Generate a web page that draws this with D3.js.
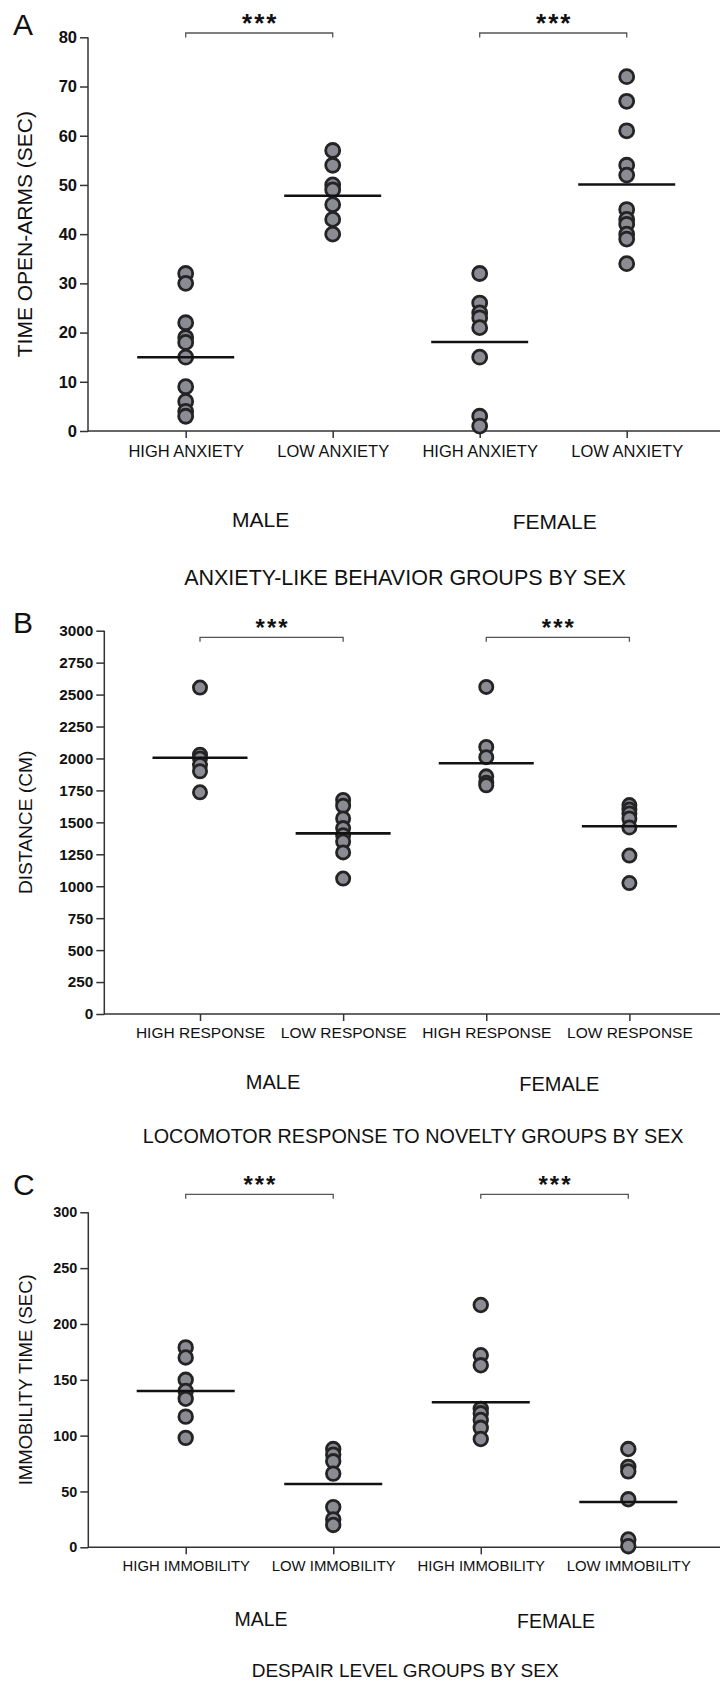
<!DOCTYPE html>
<html>
<head>
<meta charset="utf-8">
<script src="https://cdn.jsdelivr.net/npm/d3@7"></script>
<style>
  html, body { margin: 0; padding: 0; background: #fff; }
  svg { display: block; }
</style>
</head>
<body>
<script>
// ---------------- DATA ----------------
// Panel A
const catsA = ["HIGH ANXIETY", "LOW ANXIETY", "HIGH ANXIETY", "LOW ANXIETY"];
const ticksA = [0, 10, 20, 30, 40, 50, 60, 70, 80];
const maleHighAnx = [32, 30, 22, 19, 18, 15, 9, 6, 4, 3];
const maleLowAnx = [57, 54, 50, 49, 46, 43, 40];
const femaleHighAnx = [32, 26, 24, 23, 21, 15, 3, 1];
const femaleLowAnx = [72, 67, 61, 54, 52, 45, 43, 42, 40, 39, 34];
const meansA = [15, 47.8, 18.1, 50.1];

// Panel B
const catsB = ["HIGH RESPONSE", "LOW RESPONSE", "HIGH RESPONSE", "LOW RESPONSE"];
const ticksB = [0, 250, 500, 750, 1000, 1250, 1500, 1750, 2000, 2250, 2500, 2750, 3000];
const maleHighResp = [2555, 2030, 2000, 1950, 1900, 1735];
const maleLowResp = [1675, 1630, 1530, 1455, 1400, 1350, 1265, 1060];
const femaleHighResp = [2560, 2090, 2010, 1860, 1810, 1790];
const femaleLowResp = [1635, 1600, 1570, 1530, 1460, 1240, 1025];
const meansB = [2006, 1414, 1962, 1469];

// Panel C
const catsC = ["HIGH IMMOBILITY", "LOW IMMOBILITY", "HIGH IMMOBILITY", "LOW IMMOBILITY"];
const ticksC = [0, 50, 100, 150, 200, 250, 300];
const maleHighImm = [179, 170, 150, 140, 133, 117, 98];
const maleLowImm = [88, 83, 77, 66, 36, 25, 20];
const femaleHighImm = [217, 172, 163, 124, 120, 114, 107, 97];
const femaleLowImm = [88, 72, 68, 43, 7, 1];
const meansC = [140, 56.7, 129.9, 40.6];

const sexes = ["MALE", "FEMALE"];
const sigPairs = [[0, 1], [2, 3]];
const sigLabel = "***";

// ---------------- STYLE / LAYOUT ----------------
const FONT = "'Liberation Sans', Arial, Helvetica, sans-serif";
const AXIS = "#333";
const DOT_FILL = "#8b8b94";
const DOT_STROKE = "#242424";

const svg = d3.select("body").append("svg")
  .attr("width", 720).attr("height", 1681);

const panels = [
  {
    letter: "A", letterY: 35,
    yTitle: "TIME OPEN-ARMS (SEC)", yTitleX: 31.5, yTitleFont: 21,
    cats: catsA, ticks: ticksA, yDomain: [0, 80], yRange: [431, 37.3],
    axisX: 88, xRange: [185.7, 626.7], xEnd: 720, tickFont: 16.5,
    catFont: 16.5, catBase: 456.7,
    groupFont: 21, groupBase: [527.3, 529.3],
    title: "ANXIETY-LIKE BEHAVIOR GROUPS BY SEX", titleFont: 21.5, titleBase: 585,
    values: [maleHighAnx, maleLowAnx, femaleHighAnx, femaleLowAnx], means: meansA,
    bracketY: 33, starFont: 26, r: 7, halfW: 48.5
  },
  {
    letter: "B", letterY: 633.3,
    yTitle: "DISTANCE (CM)", yTitleX: 31.5, yTitleFont: 19.2,
    cats: catsB, ticks: ticksB, yDomain: [0, 3000], yRange: [1014, 630.7],
    axisX: 104.3, xRange: [200, 629.4], xEnd: 720, tickFont: 15.3,
    catFont: 15.5, catBase: 1038.3,
    groupFont: 20, groupBase: [1089, 1090.7],
    title: "LOCOMOTOR RESPONSE TO NOVELTY GROUPS BY SEX", titleFont: 19.8, titleBase: 1143.3,
    values: [maleHighResp, maleLowResp, femaleHighResp, femaleLowResp], means: meansB,
    bracketY: 637.3, starFont: 24, r: 6.6, halfW: 47.5
  },
  {
    letter: "C", letterY: 1195,
    yTitle: "IMMOBILITY TIME (SEC)", yTitleX: 31.5, yTitleFont: 18.5,
    cats: catsC, ticks: ticksC, yDomain: [0, 300], yRange: [1547.3, 1212.3],
    axisX: 88.3, xRange: [185.7, 628.3], xEnd: 720, tickFont: 14.4,
    catFont: 14.9, catBase: 1571,
    groupFont: 19.5, groupBase: [1625.7, 1627.7],
    title: "DESPAIR LEVEL GROUPS BY SEX", titleFont: 19, titleBase: 1676.7,
    values: [maleHighImm, maleLowImm, femaleHighImm, femaleLowImm], means: meansC,
    bracketY: 1194.3, starFont: 24, r: 6.8, halfW: 49
  }
];

function drawPanel(p) {
  const g = svg.append("g");
  const y = d3.scaleLinear().domain(p.yDomain).range(p.yRange);
  const x = d3.scalePoint().domain(d3.range(p.cats.length)).range(p.xRange);
  const y0 = p.yRange[0];

  // panel letter
  g.append("text").attr("x", 13).attr("y", p.letterY)
    .attr("font-family", FONT).attr("font-size", 30).attr("fill", "#111")
    .text(p.letter);

  // y axis ticks + labels
  const ya = d3.axisLeft(y).tickValues(p.ticks).tickFormat(d3.format("d"))
    .tickSize(8).tickPadding(3).tickSizeOuter(0);
  const yg = g.append("g").attr("transform", `translate(${p.axisX},0)`).call(ya);
  yg.select(".domain").remove();
  yg.selectAll(".tick line").attr("stroke", AXIS).attr("stroke-width", 1.5);
  yg.selectAll(".tick text")
    .attr("font-family", FONT).attr("font-size", p.tickFont)
    .attr("font-weight", "bold").attr("fill", "#111");

  // x axis ticks + labels
  const xa = d3.axisBottom(x).tickSize(7).tickSizeOuter(0).tickFormat(i => p.cats[i]);
  const xg = g.append("g").attr("transform", `translate(0,${y0})`).call(xa);
  xg.select(".domain").remove();
  xg.selectAll(".tick line").attr("stroke", AXIS).attr("stroke-width", 1.5);
  xg.selectAll(".tick text")
    .attr("y", p.catBase - y0).attr("dy", null)
    .attr("font-family", FONT).attr("font-size", p.catFont)
    .attr("fill", "#111");

  // axis lines
  g.append("line").attr("x1", p.axisX).attr("x2", p.axisX)
    .attr("y1", p.yRange[1]).attr("y2", y0 + 0.75)
    .attr("stroke", AXIS).attr("stroke-width", 1.5);
  g.append("line").attr("x1", p.axisX).attr("x2", p.xEnd)
    .attr("y1", y0).attr("y2", y0)
    .attr("stroke", AXIS).attr("stroke-width", 1.5);

  // y title
  const ymid = (p.yRange[0] + p.yRange[1]) / 2;
  g.append("text")
    .attr("transform", `translate(${p.yTitleX},${ymid}) rotate(-90)`)
    .attr("text-anchor", "middle")
    .attr("font-family", FONT).attr("font-size", p.yTitleFont).attr("fill", "#111")
    .text(p.yTitle);

  // sex group labels
  sexes.forEach((s, i) => {
    const cx = (x(2 * i) + x(2 * i + 1)) / 2;
    g.append("text").attr("x", cx + 1.5).attr("y", p.groupBase[i])
      .attr("text-anchor", "middle")
      .attr("font-family", FONT).attr("font-size", p.groupFont).attr("fill", "#111")
      .text(s);
  });

  // bottom title
  g.append("text").attr("x", (p.axisX + p.xEnd) / 2 + 1).attr("y", p.titleBase)
    .attr("text-anchor", "middle")
    .attr("font-family", FONT).attr("font-size", p.titleFont).attr("fill", "#111")
    .text(p.title);

  // points
  p.values.forEach((vals, i) => {
    g.append("g").selectAll("circle").data(vals).join("circle")
      .attr("cx", x(i)).attr("cy", d => y(d)).attr("r", p.r)
      .attr("fill", DOT_FILL).attr("stroke", DOT_STROKE).attr("stroke-width", 2.8);
  });

  // mean lines
  g.append("g").selectAll("line").data(p.means).join("line")
    .attr("x1", (d, i) => x(i) - p.halfW).attr("x2", (d, i) => x(i) + p.halfW)
    .attr("y1", d => y(d)).attr("y2", d => y(d))
    .attr("stroke", "#111").attr("stroke-width", 2.6);

  // significance brackets
  sigPairs.forEach(([a, b]) => {
    const xa0 = x(a), xb0 = x(b), by = p.bracketY;
    g.append("path")
      .attr("d", `M${xa0},${by + 4.5}V${by}H${xb0}V${by + 4.5}`)
      .attr("fill", "none").attr("stroke", "#555").attr("stroke-width", 1.3);
    g.append("text").attr("x", (xa0 + xb0) / 2 + 1).attr("y", by - 1)
      .attr("text-anchor", "middle")
      .attr("font-family", FONT).attr("font-size", p.starFont).attr("font-weight", "bold")
      .attr("letter-spacing", 2).attr("fill", "#111")
      .text(sigLabel);
  });
}

panels.forEach(drawPanel);
</script>
</body>
</html>
